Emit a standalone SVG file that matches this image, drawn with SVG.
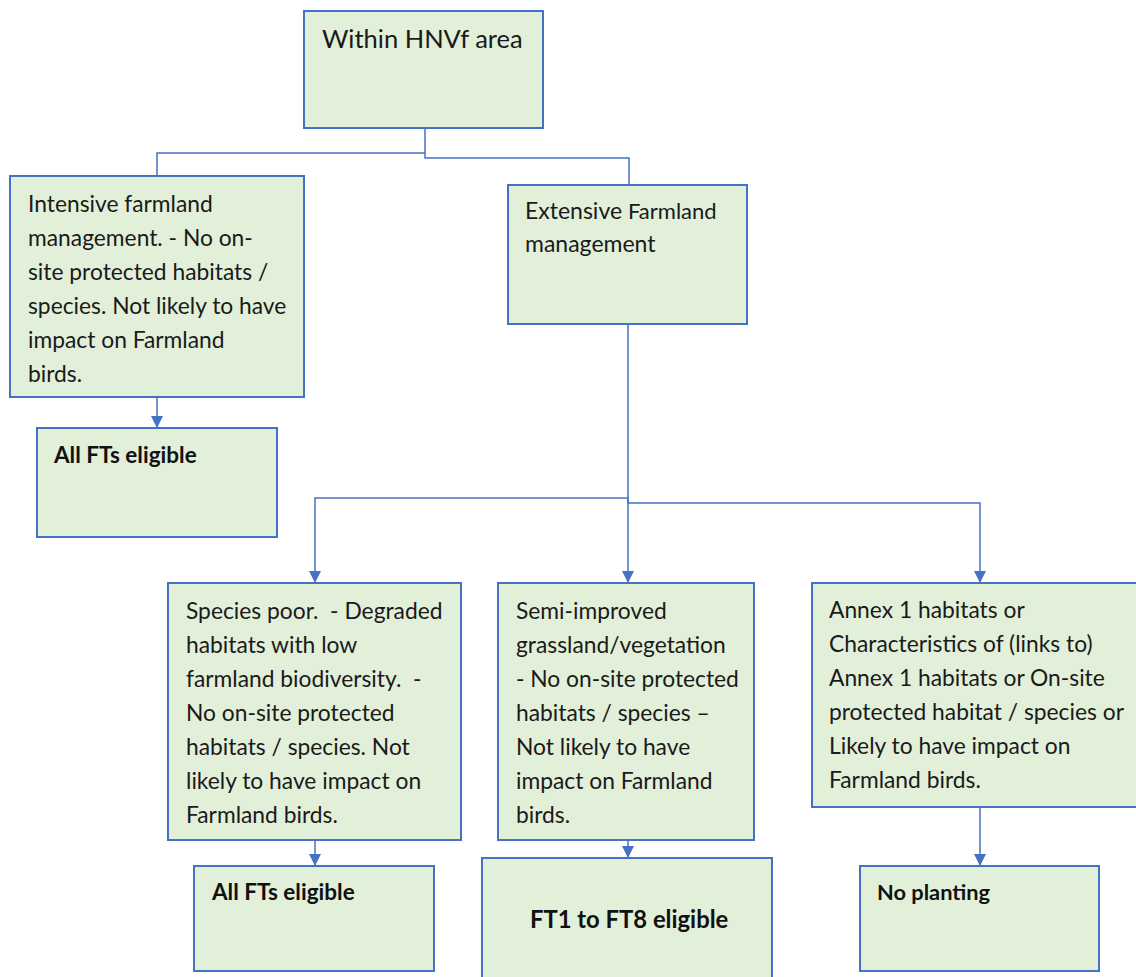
<svg xmlns="http://www.w3.org/2000/svg" width="1136" height="977" viewBox="0 0 1136 977">
<style>
.box{fill:#E2EFD9;stroke:#4472C4;stroke-width:2}
.con{fill:none;stroke:#4472C4;stroke-width:1.5}
.t{font-family:Lato,"Open Sans","Liberation Sans",sans-serif;font-size:22.8px;fill:#1a1a1a}
.b{font-family:Lato,"Open Sans","Liberation Sans",sans-serif;font-size:22.5px;font-weight:bold;fill:#111}
</style>
<defs>
<marker id="ah" markerUnits="userSpaceOnUse" markerWidth="12" markerHeight="12" refX="12" refY="6" orient="auto">
<path d="M0,0 L12,6 L0,12 z" fill="#4472C4"/>
</marker>
</defs>
<rect width="1136" height="977" fill="#fff"/>
<g id="connectors">
<path class="con" d="M425,129 V153 H157 V176"/>
<path class="con" d="M425,153 V158 H629 V185"/>
<path class="con" d="M157,398 V428" marker-end="url(#ah)"/>
<path class="con" d="M628,324 V498 H315 V583" marker-end="url(#ah)"/>
<path class="con" d="M628,498 V583" marker-end="url(#ah)"/>
<path class="con" d="M628,498 V503 H980 V583" marker-end="url(#ah)"/>
<path class="con" d="M315,840 V866" marker-end="url(#ah)"/>
<path class="con" d="M628,840 V858" marker-end="url(#ah)"/>
<path class="con" d="M980,807 V866" marker-end="url(#ah)"/>
</g>
<g id="n-top">
<rect class="box" x="304" y="11" width="239" height="117"/>
<text class="t" x="322" y="48" style="font-size:25.5px">Within HNVf area</text>
</g>
<g id="n-intensive">
<rect class="box" x="10" y="176" width="294" height="221"/>
<text class="t" x="28" y="212">Intensive farmland</text>
<text class="t" x="28" y="246">management. - No on-</text>
<text class="t" x="28" y="280">site protected habitats /</text>
<text class="t" x="28" y="314">species. Not likely to have</text>
<text class="t" x="28" y="348">impact on Farmland</text>
<text class="t" x="28" y="382">birds.</text>
</g>
<g id="n-extensive">
<rect class="box" x="508" y="185" width="239" height="139"/>
<text class="t" x="525" y="219" style="font-size:23px">Extensive <tspan style="font-size:22px">Farmland</tspan></text>
<text class="t" x="525" y="252" style="font-size:23px">management</text>
</g>
<g id="n-allft1">
<rect class="box" x="37" y="428" width="240" height="109"/>
<text class="b" x="54" y="463">All FTs eligible</text>
</g>
<g id="n-speciespoor">
<rect class="box" x="168" y="583" width="293" height="257"/>
<text class="t" x="186" y="619" xml:space="preserve">Species poor.  - Degraded</text>
<text class="t" x="186" y="653">habitats with low</text>
<text class="t" x="186" y="687" xml:space="preserve">farmland biodiversity.  -</text>
<text class="t" x="186" y="721">No on-site protected</text>
<text class="t" x="186" y="755">habitats / species. Not</text>
<text class="t" x="186" y="789">likely to have impact on</text>
<text class="t" x="186" y="823">Farmland birds.</text>
</g>
<g id="n-semi">
<rect class="box" x="498" y="583" width="256" height="257"/>
<text class="t" x="516" y="619">Semi-improved</text>
<text class="t" x="516" y="653">grassland/vegetation</text>
<text class="t" x="516" y="687">- No on-site protected</text>
<text class="t" x="516" y="721">habitats / species –</text>
<text class="t" x="516" y="755">Not likely to have</text>
<text class="t" x="516" y="789">impact on Farmland</text>
<text class="t" x="516" y="823">birds.</text>
</g>
<g id="n-annex">
<rect class="box" x="812" y="583" width="326" height="224"/>
<text class="t" x="829" y="618">Annex 1 habitats or</text>
<text class="t" x="829" y="652">Characteristics of (links to)</text>
<text class="t" x="829" y="686">Annex 1 habitats or On-site</text>
<text class="t" x="829" y="720">protected habitat / species or</text>
<text class="t" x="829" y="754">Likely to have impact on</text>
<text class="t" x="829" y="788">Farmland birds.</text>
</g>
<g id="n-allft2">
<rect class="box" x="194" y="866" width="240" height="105"/>
<text class="b" x="212" y="900">All FTs eligible</text>
</g>
<g id="n-ft1to8">
<rect class="box" x="482" y="858" width="290" height="125"/>
<text class="b" x="530" y="928" style="font-size:23.8px">FT1 to FT8 eligible</text>
</g>
<g id="n-noplanting">
<rect class="box" x="860" y="866" width="239" height="105"/>
<text class="b" x="877" y="900" style="font-size:21.8px">No planting</text>
</g>
</svg>
